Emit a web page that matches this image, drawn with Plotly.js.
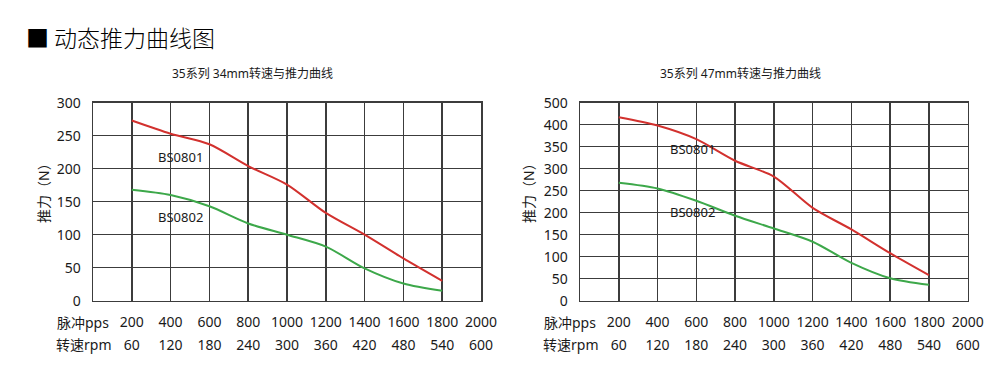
<!DOCTYPE html>
<html><head><meta charset="utf-8">
<script src="https://cdn.plot.ly/plotly-3.0.1.min.js"></script>
<style>html,body{margin:0;padding:0;background:#fff}#c{width:1000px;height:390px}</style>
</head><body><div id="c"></div>
<script>
const pageTitle = "■ 动态推力曲线图";
const subTitles = ["35系列 34mm转速与推力曲线", "35系列 47mm转速与推力曲线"];
const yTitle = "推力（N）";
const rowLabels = ["脉冲pps", "转速rpm"];
const seriesNames = ["BS0801", "BS0802"];
const pps = [200, 400, 600, 800, 1000, 1200, 1400, 1600, 1800];
const ppsTicks = [200, 400, 600, 800, 1000, 1200, 1400, 1600, 1800, 2000];
const rpmTicks = ["60", "120", "180", "240", "300", "360", "420", "480", "540", "600"];
const leftRed = [273, 253, 237, 204, 176, 133, 100, 64, 30];
const leftGreen = [168, 160, 143, 117, 100, 82, 49, 26, 15];
const rightRed = [417, 398, 367, 318, 282, 211, 162, 108, 58];
const rightGreen = [268, 255, 227, 193, 164, 134, 86, 51, 36];
const leftYTicks = [0, 50, 100, 150, 200, 250, 300];
const rightYTicks = [0, 50, 100, 150, 200, 250, 300, 350, 400, 450];
const rightYText = ["0", "50", "100", "150", "200", "250", "300", "350", "400", "500"];

const FONT = '"Noto Sans", "Noto Sans CJK SC", sans-serif';
const RED = '#d2312e', GREEN = '#3da84a', GRID = '#3c3c3c', TXT = '#1a1a1a';
const yDom = [0.229, 0.7367];

function line(x, y, color, xa, ya) {
  return {x: x, y: y, type: 'scatter', mode: 'lines', xaxis: xa, yaxis: ya,
    line: {color: color, width: 2, shape: 'spline', smoothing: 0.8}, hoverinfo: 'skip', showlegend: false};
}
const data = [
  line(pps, leftRed, RED, 'x', 'y'),
  line(pps, leftGreen, GREEN, 'x', 'y'),
  line(pps, rightRed, RED, 'x3', 'y2'),
  line(pps, rightGreen, GREEN, 'x3', 'y2'),
  {x: [0], y: [0], xaxis: 'x2', yaxis: 'y', mode: 'markers', marker: {opacity: 0}, hoverinfo: 'skip', showlegend: false},
  {x: [0], y: [0], xaxis: 'x4', yaxis: 'y2', mode: 'markers', marker: {opacity: 0}, hoverinfo: 'skip', showlegend: false}
];

function xAx(dom, anchor, ticktext, standoff, overlay) {
  const a = {range: [0, 2000], tickvals: ppsTicks, ticktext: ticktext, anchor: anchor,
    showgrid: !overlay, gridcolor: GRID, gridwidth: 1.5, zeroline: false,
    showline: !overlay, linecolor: GRID, linewidth: 1.5, mirror: true, ticks: '',
    ticklabelstandoff: standoff, tickfont: {family: FONT, size: 14, color: TXT}, fixedrange: true};
  if (overlay) { a.overlaying = overlay; a.side = 'bottom'; } else { a.domain = dom; }
  return a;
}
function yAx(anchor, range, vals, text) {
  return {domain: yDom, anchor: anchor, range: range, tickvals: vals, ticktext: text,
    showgrid: true, gridcolor: GRID, gridwidth: 1.5, zeroline: false,
    showline: true, linecolor: GRID, linewidth: 1.5, mirror: true, ticks: '',
    ticklabelstandoff: 8, tickfont: {family: FONT, size: 14, color: TXT}, fixedrange: true};
}

const ann = [];
function A(o) { ann.push(Object.assign({showarrow: false, font: {family: FONT, size: 13, color: TXT}}, o)); }
A({text: pageTitle, xref: 'paper', yref: 'paper', x: 0.024, y: 1 - 37/390, xanchor: 'left', yanchor: 'middle', font: {family: '"Noto Sans CJK SC", sans-serif', size: 23, color: '#000', weight: 300}});
A({text: subTitles[0], xref: 'paper', yref: 'paper', x: 0.252, y: 1 - 73/390, xanchor: 'center', yanchor: 'middle', font: {family: FONT, size: 12, color: TXT}});
A({text: subTitles[1], xref: 'paper', yref: 'paper', x: 0.740, y: 1 - 73/390, xanchor: 'center', yanchor: 'middle', font: {family: FONT, size: 12, color: TXT}});
[[0.043, 0.083], [0.528, 0.570]].forEach(function (p) {
  A({text: yTitle, xref: 'paper', yref: 'paper', x: p[0], y: 1 - 190/390, textangle: -90, xanchor: 'center', yanchor: 'middle', font: {family: FONT, size: 14, color: TXT}});
  A({text: rowLabels[0], xref: 'paper', yref: 'paper', x: p[1], y: 1 - 322/390, xanchor: 'center', yanchor: 'middle', font: {family: FONT, size: 14, color: TXT}});
  A({text: rowLabels[1], xref: 'paper', yref: 'paper', x: p[1], y: 1 - 344/390, xanchor: 'center', yanchor: 'middle', font: {family: FONT, size: 14, color: TXT}});
});
A({text: seriesNames[0], xref: 'x', yref: 'y', x: 450, y: 218, xanchor: 'center', yanchor: 'middle'});
A({text: seriesNames[1], xref: 'x', yref: 'y', x: 450, y: 127, xanchor: 'center', yanchor: 'middle'});
A({text: seriesNames[0], xref: 'x3', yref: 'y2', x: 580, y: 344, xanchor: 'center', yanchor: 'middle'});
A({text: seriesNames[1], xref: 'x3', yref: 'y2', x: 580, y: 202, xanchor: 'center', yanchor: 'middle'});

const layout = {
  width: 1000, height: 390, margin: {l: 0, r: 0, t: 0, b: 0},
  paper_bgcolor: '#fff', plot_bgcolor: '#fff', showlegend: false,
  xaxis: xAx([0.093, 0.481], 'y', ppsTicks.map(String), 8, null),
  xaxis2: xAx(null, 'y', rpmTicks, 34, 'x'),
  xaxis3: xAx([0.580, 0.9677], 'y2', ppsTicks.map(String), 8, null),
  xaxis4: xAx(null, 'y2', rpmTicks, 34, 'x3'),
  yaxis: yAx('x', [0, 300], leftYTicks, leftYTicks.map(String)),
  yaxis2: yAx('x3', [0, 450], rightYTicks, rightYText),
  annotations: ann
};
Plotly.newPlot('c', data, layout, {displayModeBar: false, staticPlot: true});
</script></body></html>
